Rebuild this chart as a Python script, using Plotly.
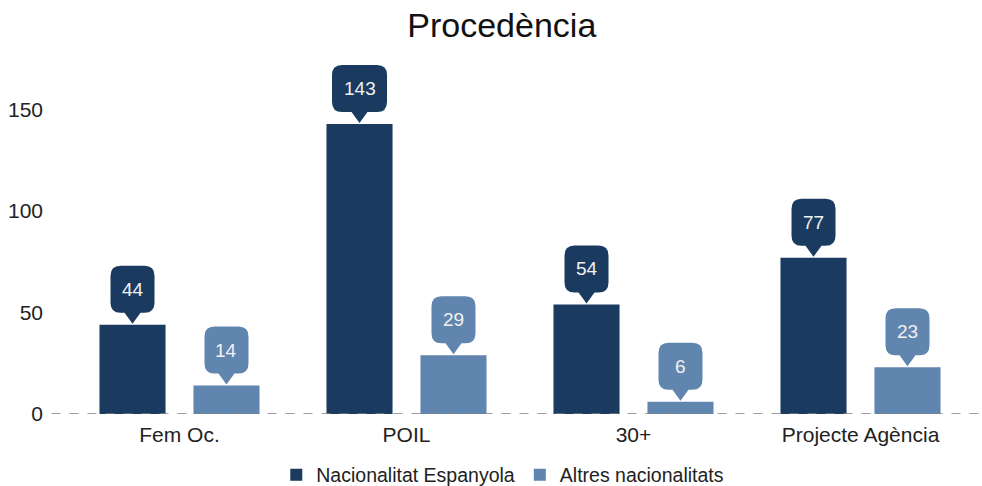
import plotly.graph_objects as go

categories = ["Fem Oc.", "POIL", "30+", "Projecte Agència"]
espanyola = [44, 143, 54, 77]
altres = [14, 29, 6, 23]
series_names = ["Nacionalitat Espanyola", "Altres nacionalitats"]
y_ticks = [0, 50, 100, 150]

DARK = "#1b3a5f"
LIGHT = "#6085ae"
FONT = "Liberation Sans, Arial, sans-serif"

BARGAP = 0.172
BARGROUPGAP = 0.297

xs = list(range(len(categories)))

fig = go.Figure()
fig.add_trace(go.Bar(x=xs, y=espanyola, name=series_names[0], marker_color=DARK,
                     marker_line_width=0, hoverinfo="skip"))
fig.add_trace(go.Bar(x=xs, y=altres, name=series_names[1], marker_color=LIGHT,
                     marker_line_width=0, hoverinfo="skip"))

shapes = []
annotations = []
offset = (1 - BARGAP) / 4
for series, color, sign in ((espanyola, DARK, -1), (altres, LIGHT, 1)):
    for i, v in enumerate(series):
        xa = i + sign * offset
        w = 44 if len(str(v)) <= 2 else 55
        tip = 1
        b = tip + 11
        t = b + 47
        r = 10
        hp = 8
        hw = w / 2
        path = (f"M {-hp},{b} L 0,{tip} L {hp},{b} L {hw - r},{b} Q {hw},{b} {hw},{b + r} "
                f"L {hw},{t - r} Q {hw},{t} {hw - r},{t} L {-hw + r},{t} Q {-hw},{t} {-hw},{t - r} "
                f"L {-hw},{b + r} Q {-hw},{b} {-hw + r},{b} Z")
        shapes.append(dict(type="path", xref="x", yref="y", xsizemode="pixel", ysizemode="pixel",
                           xanchor=xa, yanchor=v, path=path, fillcolor=color,
                           line=dict(width=0), layer="above"))
        annotations.append(dict(x=xa, y=v, xref="x", yref="y", text=str(v), showarrow=False,
                                yshift=(b + t) / 2, font=dict(color="#f2f2f2", size=19, family=FONT)))

shapes.append(dict(type="line", xref="paper", yref="y", x0=-0.016, x1=1.01, y0=0, y1=0,
                   line=dict(color="#808080", width=1.3, dash="dash"), layer="above"))

fig.update_layout(
    width=982, height=486,
    margin=dict(l=66, r=8, t=59, b=72),
    paper_bgcolor="white", plot_bgcolor="white",
    font=dict(family=FONT, color="#222222", size=19),
    title=dict(text="Procedència", x=0.511, xref="container", xanchor="center",
               y=1 - 25 / 486, yref="container", yanchor="middle",
               font=dict(size=34, color="#111111", family=FONT)),
    barmode="group", bargap=BARGAP, bargroupgap=BARGROUPGAP,
    showlegend=True,
    legend=dict(orientation="h", x=0.512, xref="container", xanchor="center",
                y=11 / 486, yref="container", yanchor="middle",
                font=dict(size=19.5, color="#222222", family=FONT), traceorder="normal"),
    shapes=shapes, annotations=annotations,
)
fig.update_xaxes(range=[-0.5, 3.5], tickvals=xs, ticktext=categories, showgrid=False,
                 zeroline=False, showline=False, ticks="", tickfont=dict(size=21),
                 ticklabelstandoff=6, fixedrange=True)
fig.update_yaxes(range=[0, 175], tickvals=y_ticks, showgrid=False, zeroline=False,
                 showline=False, ticks="", tickfont=dict(size=21), ticklabelstandoff=22,
                 fixedrange=True)

fig.write_html("out.html", config={"displayModeBar": False},
               post_script="document.body.style.margin='0';")
